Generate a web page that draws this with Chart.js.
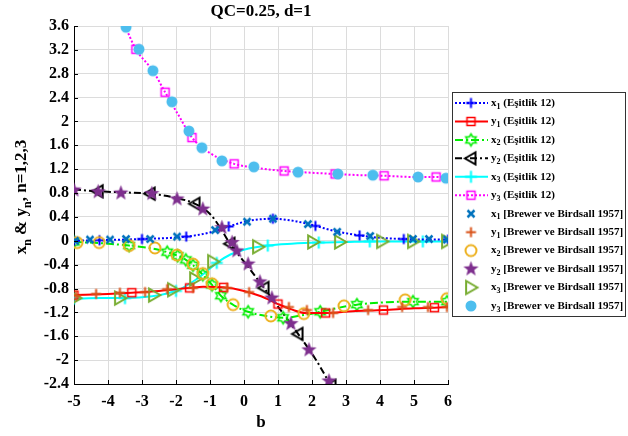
<!DOCTYPE html>
<html>
<head>
<meta charset="utf-8">
<script src="https://cdn.jsdelivr.net/npm/chart.js@4.4.0/dist/chart.umd.min.js"></script>
<style>
  html, body { margin: 0; padding: 0; background: #fff; }
</style>
</head>
<body>
<canvas id="chart" width="628" height="436"></canvas>
<script>
const serif = '"Liberation Serif", "Times New Roman", serif'

// axis ranges
const bMin = -5, bMax = 6, bStep = 1
const vMin = -2.4, vMax = 3.6, vStep = 0.4

// Eşitlik 12 curves: b values, curve values, indices that carry a marker
const x1EqB = [-5, -4.25, -3.0, -1.7, -1.0, -0.45, 0.1, 0.85, 1.5, 2.1, 2.7, 3.4, 4.0, 4.7, 5.3, 6]
const x1EqV = [0.0, 0.01, 0.03, 0.07, 0.14, 0.24, 0.33, 0.37, 0.33, 0.25, 0.16, 0.09, 0.05, 0.03, 0.02, 0.02]
const x1EqMark = [0, 1, 2, 3, 5, 7, 9, 11, 13, 15]

const y1EqB = [-5, -4, -3.3, -2.5, -2, -1.6, -1.2, -0.6, 0, 0.5, 1.0, 1.4, 1.8, 2.4, 3.2, 4.1, 5, 5.6, 6]
const y1EqV = [-0.91, -0.89, -0.87, -0.84, -0.81, -0.79, -0.77, -0.78, -0.84, -0.93, -1.06, -1.15, -1.21, -1.21, -1.18, -1.16, -1.13, -1.12, -1.11]
const y1EqMark = [0, 2, 5, 7, 10, 13, 15, 17]

const x2EqB = [-5, -4.2, -3.38, -2.7, -2.26, -1.95, -1.71, -1.5, -1.21, -0.94, -0.68, -0.3, 0.12, 0.65, 1.15, 1.7, 2.24, 2.8, 3.32, 4.2, 4.97, 5.97]
const x2EqV = [-0.02, -0.04, -0.08, -0.13, -0.19, -0.25, -0.32, -0.41, -0.57, -0.74, -0.92, -1.08, -1.19, -1.26, -1.29, -1.25, -1.19, -1.12, -1.07, -1.03, -1.02, -1.02]
const x2EqMark = [0, 2, 4, 5, 6, 7, 8, 9, 10, 12, 14, 16, 18, 20, 21]

const y2EqB = [-5, -4.29, -3.5, -2.76, -2.0, -1.44, -1.0, -0.7, -0.41, 0.1, 0.59, 1.1, 1.59, 2.1, 2.56]
const y2EqV = [0.86, 0.83, 0.81, 0.79, 0.72, 0.62, 0.45, 0.22, -0.05, -0.42, -0.79, -1.18, -1.56, -1.98, -2.43]
const y2EqMark = [1, 3, 5, 8, 10, 12, 14]

const x3EqB = [-5, -4.2, -3.5, -2.7, -2.0, -1.6, -1.2, -0.8, -0.4, 0, 0.7, 1.4, 2.2, 3.0, 3.7, 4.5, 5.26, 6]
const x3EqV = [-0.97, -0.96, -0.96, -0.93, -0.84, -0.72, -0.56, -0.37, -0.23, -0.15, -0.08, -0.05, -0.03, -0.02, -0.01, -0.01, -0.01, -0.01]
const x3EqMark = [0, 2, 4, 7, 10, 12, 14, 16]

const y3EqB = [-3.5, -3.18, -2.68, -2.32, -1.9, -1.53, -1.0, -0.29, 0.4, 1.18, 2.0, 2.68, 3.4, 4.12, 5.0, 5.65, 6]
const y3EqV = [3.6, 3.21, 2.85, 2.49, 2.08, 1.73, 1.47, 1.29, 1.22, 1.17, 1.14, 1.12, 1.10, 1.09, 1.07, 1.07, 1.06]
const y3EqMark = [1, 3, 5, 7, 9, 11, 13, 15]

// Brewer ve Birdsall 1957 points
const x1BwB = [-4.97, -4.53, -3.94, -3.47, -2.76, -1.97, -0.85, 0.09, 0.85, 1.88, 2.74, 3.71, 4.97, 5.44, 5.97]
const x1BwV = [0.0, 0.02, 0.02, 0.03, 0.03, 0.07, 0.18, 0.32, 0.37, 0.28, 0.15, 0.08, 0.03, 0.03, 0.02]

const y1BwB = [-4.94, -4.35, -3.65, -2.91, -2.26, -1.5, -0.5, 0.15, 1.32, 1.85, 2.62, 3.65, 4.65, 5.41, 5.97]
const y1BwV = [-0.92, -0.89, -0.87, -0.86, -0.81, -0.79, -0.79, -0.86, -1.11, -1.16, -1.21, -1.16, -1.11, -1.11, -1.11]

const x2BwB = [-4.91, -4.26, -3.38, -2.62, -1.97, -1.5, -1.21, -0.94, -0.32, 0.79, 1.76, 2.94, 4.74, 5.97]
const x2BwV = [-0.03, -0.03, -0.08, -0.12, -0.24, -0.39, -0.55, -0.72, -1.07, -1.26, -1.22, -1.09, -0.99, -0.97]

const y2BwB = [-5.0, -4.29, -3.62, -2.71, -1.97, -1.21, -0.65, -0.35, -0.21, 0.12, 0.47, 0.82, 1.38, 1.91, 2.5]
const y2BwV = [0.85, 0.82, 0.80, 0.79, 0.70, 0.53, 0.22, -0.03, -0.17, -0.39, -0.69, -0.96, -1.39, -1.83, -2.35]

const x3BwB = [-4.97, -3.65, -2.65, -2.09, -1.44, -0.91, 0.41, 2.03, 2.82, 4.06, 4.97, 5.97]
const x3BwV = [-0.96, -0.96, -0.91, -0.82, -0.64, -0.35, -0.1, -0.02, -0.02, -0.01, -0.01, -0.01]

const y3BwB = [-3.47, -3.09, -2.68, -2.12, -1.62, -1.24, -0.65, 0.29, 1.59, 2.76, 3.79, 5.12, 5.94]
const y3BwV = [3.58, 3.21, 2.85, 2.33, 1.84, 1.56, 1.34, 1.24, 1.15, 1.12, 1.10, 1.07, 1.05]

// legend text pieces
const seriesVar = ['x', 'y', 'x', 'y', 'x', 'y']
const seriesSub = ['1', '1', '2', '2', '3', '3']
const eqSource = ' (Eşitlik 12)'
const bwSource = ' [Brewer ve Birdsall 1957]'

// draws a marker once into a small canvas, used as pointStyle
function markerImg(kind, color, r, lw) {
  const pad = Math.ceil(lw) + 1
  const dim = 2 * (r + pad) + 1
  const c = document.createElement('canvas')
  c.width = dim
  c.height = dim
  const g = c.getContext('2d')
  g.translate(dim / 2, dim / 2)
  g.strokeStyle = color
  g.fillStyle = color
  g.lineWidth = lw
  g.beginPath()
  if (kind === 'plus') {
    g.moveTo(-r, 0); g.lineTo(r, 0); g.moveTo(0, -r); g.lineTo(0, r)
    g.stroke()
  } else if (kind === 'cross') {
    g.moveTo(-r, -r); g.lineTo(r, r); g.moveTo(r, -r); g.lineTo(-r, r)
    g.stroke()
  } else if (kind === 'square') {
    g.rect(-r, -r, 2 * r, 2 * r)
    g.stroke()
  } else if (kind === 'circle') {
    g.arc(0, 0, r, 0, Math.PI * 2)
    g.stroke()
  } else if (kind === 'dot') {
    g.arc(0, 0, r, 0, Math.PI * 2)
    g.fill()
  } else if (kind === 'star' || kind === 'hexagram') {
    const n = kind === 'star' ? 5 : 6
    const inner = kind === 'star' ? r * 0.42 : r * 0.58
    for (let i = 0; i < 2 * n; i++) {
      const a = -Math.PI / 2 + i * Math.PI / n
      const rr = i % 2 ? inner : r
      g.lineTo(rr * Math.cos(a), rr * Math.sin(a))
    }
    g.closePath()
    if (kind === 'star') g.fill()
    else g.stroke()
  } else if (kind === 'left') {
    g.moveTo(-r, 0); g.lineTo(r * 0.75, -r); g.lineTo(r * 0.75, r)
    g.closePath()
    g.stroke()
  } else if (kind === 'right') {
    g.moveTo(r, 0); g.lineTo(-r * 0.75, -r); g.lineTo(-r * 0.75, r)
    g.closePath()
    g.stroke()
  }
  return c
}

const toPoints = (bs, vs) => bs.map((b, i) => ({ x: b, y: vs[i] }))

const eqLine = (bs, vs, marks, color, dash, kind, r, lw) => ({
  data: toPoints(bs, vs),
  showLine: true,
  borderColor: color,
  backgroundColor: color,
  borderWidth: 2,
  borderDash: dash,
  cubicInterpolationMode: 'monotone',
  pointStyle: markerImg(kind, color, r, lw),
  pointRadius: ctx => (marks.includes(ctx.dataIndex) ? r : 0),
  order: 2,
})

const bwMarks = (bs, vs, color, kind, r, lw) => ({
  data: toPoints(bs, vs),
  showLine: false,
  borderColor: color,
  backgroundColor: color,
  pointStyle: markerImg(kind, color, r, lw),
  pointRadius: r,
  order: 1,
})

const datasets = [
  eqLine(x1EqB, x1EqV, x1EqMark, '#0000ff', [2, 2], 'plus', 5, 2),
  eqLine(y1EqB, y1EqV, y1EqMark, '#ff0000', [], 'square', 4, 1.5),
  eqLine(x2EqB, x2EqV, x2EqMark, '#00ee00', [8, 3, 2, 3], 'hexagram', 6, 1.5),
  eqLine(y2EqB, y2EqV, y2EqMark, '#000000', [7, 3, 2, 3], 'left', 6, 2),
  eqLine(x3EqB, x3EqV, x3EqMark, '#00ffff', [], 'plus', 6, 2),
  eqLine(y3EqB, y3EqV, y3EqMark, '#ff00ff', [2, 2], 'square', 4, 1.5),
  bwMarks(x1BwB, x1BwV, '#0072bd', 'cross', 3.5, 2.5),
  bwMarks(y1BwB, y1BwV, '#d95319', 'plus', 5, 2),
  bwMarks(x2BwB, x2BwV, '#edb120', 'circle', 5.5, 2),
  bwMarks(y2BwB, y2BwV, '#7e2f8e', 'star', 8, 1),
  bwMarks(x3BwB, x3BwV, '#77ac30', 'right', 6.5, 2),
  bwMarks(y3BwB, y3BwV, '#4dbeee', 'dot', 5.5, 1),
]

// text with subscripts, parts = [[text, isSub], ...]
function richText(g, parts, x, y, size, align) {
  const fontOf = sub => `bold ${sub ? Math.round(size * 0.72) : size}px ${serif}`
  const widths = parts.map(([t, sub]) => { g.font = fontOf(sub); return g.measureText(t).width })
  const total = widths.reduce((a, b) => a + b, 0)
  let cx = align === 'center' ? x - total / 2 : x
  g.textAlign = 'left'
  g.textBaseline = 'middle'
  parts.forEach(([t, sub], i) => {
    g.font = fontOf(sub)
    g.fillText(t, cx, y + (sub ? size * 0.32 : 0))
    cx += widths[i]
  })
}

const decorations = {
  id: 'decorations',
  afterDraw(chart) {
    const g = chart.ctx
    const { left, right, top, bottom } = chart.chartArea
    const xs = chart.scales.x, ys = chart.scales.y
    g.save()
    g.fillStyle = '#000'

    // inward tick marks
    g.strokeStyle = '#000'
    g.lineWidth = 1
    g.beginPath()
    xs.ticks.forEach(t => {
      const px = Math.round(xs.getPixelForValue(t.value)) + 0.5
      g.moveTo(px, bottom); g.lineTo(px, bottom - 4)
    })
    ys.ticks.forEach(t => {
      const py = Math.round(ys.getPixelForValue(t.value)) + 0.5
      g.moveTo(left, py); g.lineTo(left + 4, py)
    })
    g.stroke()

    // title and axis titles
    richText(g, [['QC=0.25, d=1', false]], (left + right) / 2, 12, 17, 'center')
    richText(g, [['b', false]], (left + right) / 2, 423, 17, 'center')
    g.save()
    g.translate(22, 197)
    g.rotate(-Math.PI / 2)
    richText(g, [['x', false], ['n', true], [' & y', false], ['n', true], [', n=1,2,3', false]], 0, 0, 17, 'center')
    g.restore()

    // legend
    const lx = 452.5, ly = 92.5, lw = 173, lh = 224
    g.fillStyle = '#fff'
    g.fillRect(lx, ly, lw, lh)
    g.strokeStyle = '#333'
    g.strokeRect(lx, ly, lw, lh)
    chart.data.datasets.forEach((ds, i) => {
      const rowY = 103 + i * 18.45
      if (ds.showLine) {
        g.save()
        g.strokeStyle = ds.borderColor
        g.lineWidth = 2
        g.setLineDash(ds.borderDash)
        g.beginPath()
        g.moveTo(455, rowY); g.lineTo(488, rowY)
        g.stroke()
        g.restore()
      }
      const img = ds.pointStyle
      g.drawImage(img, 471 - img.width / 2, rowY - img.height / 2)
      g.fillStyle = '#000'
      const k = i % 6
      richText(g, [[seriesVar[k], false], [seriesSub[k], true], [i < 6 ? eqSource : bwSource, false]], 491, rowY, 11, 'left')
    })
    g.restore()
  },
}

const tickFont = { family: serif, size: 16, weight: 'bold' }

new Chart(document.getElementById('chart'), {
  type: 'scatter',
  data: { datasets },
  options: {
    responsive: false,
    animation: false,
    layout: { padding: { left: 0, right: 180, top: 26, bottom: 0 } },
    plugins: { legend: { display: false }, tooltip: { enabled: false } },
    scales: {
      x: {
        type: 'linear',
        min: bMin,
        max: bMax,
        afterFit: s => { s.height = 52 },
        ticks: { stepSize: bStep, color: '#000', font: tickFont, padding: 8, maxRotation: 0 },
        grid: { color: '#dcdcdc', drawTicks: false },
        border: { color: '#000', width: 1 },
      },
      y: {
        min: vMin,
        max: vMax,
        afterFit: s => { s.width = 74 },
        ticks: {
          stepSize: vStep,
          autoSkip: false,
          color: '#000',
          font: tickFont,
          padding: 5,
          callback: v => String(Math.round(v * 10) / 10),
        },
        grid: { color: '#dcdcdc', drawTicks: false },
        border: { color: '#000', width: 1 },
      },
    },
  },
  plugins: [decorations],
})
</script>
</body>
</html>
